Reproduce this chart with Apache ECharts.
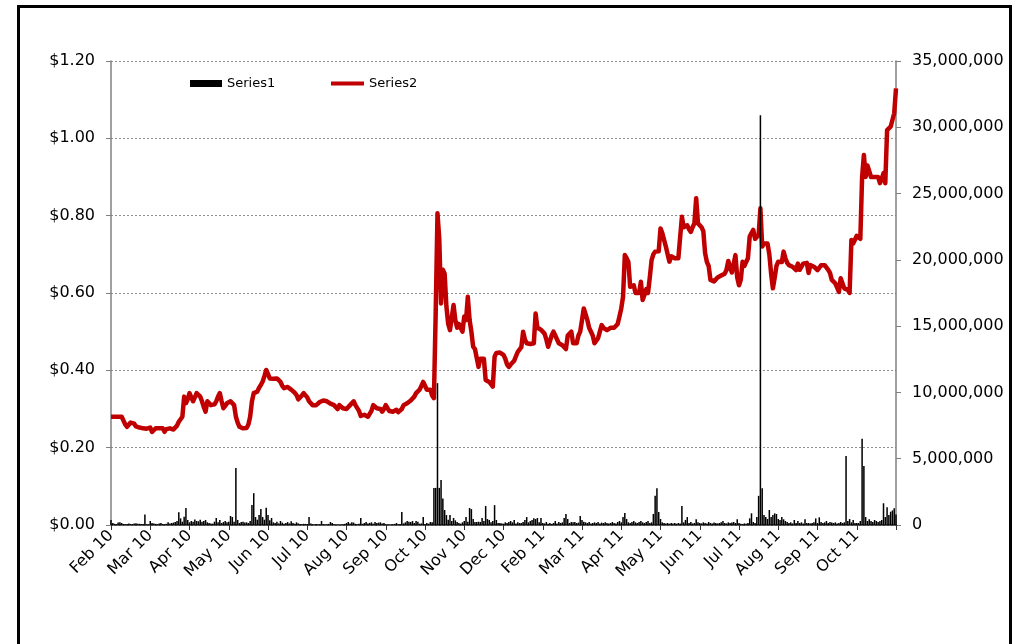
<!DOCTYPE html>
<html>
<head>
<meta charset="utf-8">
<script src="https://cdn.jsdelivr.net/npm/echarts@6/dist/echarts.min.js"></script>
<style>
html,body{margin:0;padding:0;background:#fff;}
#chart{width:1017px;height:644px;position:absolute;left:0;top:0;}
#frame{position:absolute;left:17px;top:5px;width:989px;height:700px;border:3px solid #000;pointer-events:none;}
</style>
</head>
<body>
<div id="chart"></div>
<div id="frame"></div>
<script>
// Tick labels on the category axis (one every 22 trading days)
const tickLabels = ['Feb 10','Mar 10','Apr 10','May 10','Jun 10','Jul 10','Aug 10','Sep 10','Oct 10','Nov 10','Dec 10','Feb 11','Mar 11','Apr 11','May 11','Jun 11','Jul 11','Aug 11','Sep 11','Oct 11'];
const tickEvery = 22;

// Series2: price ($), one per trading day
const price = [
0.28,0.28,0.28,0.28,0.28,0.28,0.28,0.27,0.26,0.254,
0.258,0.265,0.269,0.262,0.255,0.257,0.252,0.25,0.25,0.254,
0.249,0.252,0.252,0.241,0.246,0.25,0.25,0.25,0.248,0.25,
0.241,0.248,0.25,0.25,0.25,0.247,0.25,0.257,0.267,0.272,
0.28,0.332,0.315,0.325,0.341,0.33,0.32,0.33,0.341,0.338,
0.332,0.32,0.305,0.293,0.32,0.318,0.31,0.31,0.312,0.32,
0.332,0.341,0.32,0.302,0.308,0.315,0.318,0.32,0.315,0.31,
0.28,0.265,0.254,0.252,0.25,0.25,0.251,0.26,0.28,0.32,
0.341,0.336,0.345,0.355,0.362,0.371,0.385,0.401,0.39,0.379,
0.38,0.378,0.379,0.379,0.375,0.37,0.36,0.354,0.358,0.357,
0.352,0.35,0.348,0.342,0.336,0.325,0.32,0.335,0.341,0.338,
0.33,0.32,0.315,0.31,0.31,0.31,0.312,0.318,0.32,0.322,
0.32,0.32,0.318,0.314,0.312,0.31,0.305,0.3,0.31,0.308,
0.302,0.3,0.3,0.305,0.31,0.315,0.32,0.31,0.305,0.295,
0.282,0.28,0.285,0.285,0.28,0.28,0.295,0.31,0.305,0.302,
0.3,0.3,0.293,0.3,0.31,0.302,0.295,0.298,0.293,0.293,
0.298,0.292,0.293,0.3,0.31,0.312,0.315,0.318,0.322,0.323,
0.332,0.341,0.345,0.35,0.354,0.37,0.36,0.35,0.35,0.35,
0.335,0.328,0.55,0.806,0.74,0.573,0.66,0.65,0.565,0.52,
0.504,0.5,0.569,0.53,0.51,0.52,0.515,0.5,0.539,0.53,
0.59,0.53,0.5,0.461,0.455,0.45,0.409,0.43,0.435,0.43,
0.375,0.372,0.37,0.365,0.358,0.435,0.445,0.448,0.446,0.444,
0.44,0.43,0.415,0.409,0.415,0.42,0.425,0.43,0.448,0.45,
0.46,0.5,0.48,0.47,0.47,0.468,0.47,0.47,0.547,0.51,
0.508,0.505,0.5,0.495,0.48,0.461,0.475,0.49,0.5,0.49,
0.485,0.47,0.468,0.465,0.46,0.455,0.49,0.495,0.5,0.47,
0.47,0.47,0.49,0.5,0.53,0.56,0.545,0.53,0.51,0.505,
0.49,0.47,0.475,0.483,0.5,0.517,0.51,0.505,0.504,0.508,
0.51,0.51,0.51,0.51,0.52,0.539,0.56,0.59,0.698,0.69,
0.68,0.616,0.62,0.62,0.6,0.605,0.6,0.629,0.582,0.595,
0.61,0.6,0.64,0.685,0.7,0.707,0.707,0.708,0.767,0.755,
0.75,0.72,0.7,0.681,0.695,0.7,0.69,0.69,0.69,0.69,
0.797,0.77,0.772,0.775,0.765,0.758,0.77,0.78,0.845,0.78,
0.775,0.77,0.76,0.703,0.68,0.67,0.634,0.632,0.63,0.635,
0.64,0.645,0.645,0.647,0.65,0.66,0.683,0.665,0.653,0.65,
0.698,0.64,0.62,0.634,0.681,0.67,0.68,0.69,0.746,0.755,
0.763,0.74,0.745,0.75,0.819,0.72,0.728,0.728,0.728,0.7,
0.65,0.612,0.64,0.67,0.681,0.68,0.68,0.707,0.69,0.678,
0.672,0.668,0.668,0.665,0.659,0.676,0.66,0.657,0.676,0.672,
0.678,0.652,0.672,0.67,0.668,0.665,0.659,0.665,0.672,0.676,
0.672,0.668,0.66,0.652,0.634,0.63,0.625,0.629,0.603,0.638,
0.625,0.612,0.61,0.608,0.6,0.737,0.728,0.725,0.748,0.745,
0.74,0.9,0.957,0.9,0.93,0.935,0.9,0.897,0.9,0.905,
0.9,0.884,0.895,0.91,0.884,1.021,1.025,1.03,1.025,1.065,
1.129
];

// Series1: volume, in thousands of units, one per trading day
const volumeThousands = [
377,150,90,60,180,200,150,80,60,70,
110,80,60,120,140,100,90,70,80,800,
60,40,300,150,120,90,60,110,150,80,
60,90,200,120,150,180,225,300,960,500,
250,625,1280,380,200,300,250,420,300,280,
400,250,300,380,200,150,120,100,250,530,
200,380,150,220,300,200,250,680,600,250,
4300,380,150,220,250,180,200,150,300,1500,
2400,600,400,750,1200,600,400,1300,750,350,
530,200,150,250,120,300,180,100,150,220,
120,280,150,100,200,120,75,60,90,80,
75,600,120,60,40,80,60,50,300,60,
40,60,80,225,150,60,40,30,20,40,
60,80,150,225,120,200,180,90,60,100,
530,90,150,225,120,160,200,100,225,150,
180,200,120,160,60,40,30,40,60,80,
150,60,80,980,120,200,300,250,225,300,
150,300,250,100,120,600,80,150,100,225,
200,2800,2800,10700,2800,3400,2000,1130,750,400,
750,300,530,350,225,150,100,200,300,600,
250,1280,1200,450,220,225,250,225,530,300,
1430,450,380,200,300,1500,380,150,150,120,
100,200,150,225,300,200,380,120,200,150,
150,220,380,600,200,300,380,500,450,530,
200,530,150,120,225,100,150,80,150,300,
120,225,150,200,530,830,450,150,225,200,
225,150,180,680,380,250,200,150,225,120,
150,200,150,225,120,180,150,200,150,120,
150,225,150,120,225,300,200,600,900,450,
200,150,225,300,200,150,225,300,200,150,
225,300,150,200,830,2200,2770,980,450,200,
150,120,150,100,150,120,150,100,150,120,
1430,200,380,600,150,225,120,150,430,200,
150,120,200,150,120,225,150,120,180,150,
120,150,200,300,150,120,200,150,180,225,
150,430,150,100,75,120,100,150,500,880,
225,150,600,2200,30900,2770,750,600,450,1130,
600,750,880,830,450,380,600,430,300,225,
150,200,120,380,150,300,150,200,120,430,
150,150,120,150,200,500,150,580,225,150,
200,300,150,225,180,150,200,120,150,225,
150,200,5200,300,450,200,380,150,150,150,
300,6500,4450,600,300,430,300,225,380,300,
225,300,380,1640,600,1330,750,1000,1100,1260,
800
];

const days = price.map((_, i) => String(i));
const volume = volumeThousands.map(v => v * 1000);

const FONT = 'DejaVu Sans';
const legendText = {fontFamily: FONT, fontSize: 13, color: '#000'};
const chart = echarts.init(document.getElementById('chart'), null, {renderer: 'canvas'});
chart.setOption({
  animation: false,
  backgroundColor: '#ffffff',
  textStyle: {fontFamily: FONT},
  legend: [
    {
      left: 190, top: 77, padding: 0,
      itemWidth: 32, itemHeight: 7,
      textStyle: legendText,
      data: [{name: 'Series1', icon: 'rect'}]
    },
    {
      left: 331, top: 77, padding: 0,
      itemWidth: 33, itemHeight: 4,
      textStyle: legendText,
      data: [{name: 'Series2', icon: 'rect'}]
    }
  ],
  grid: {left: 111, right: 121, top: 61, bottom: 119, containLabel: false},
  xAxis: {
    type: 'category',
    data: days,
    boundaryGap: false,
    axisLine: {lineStyle: {color: '#303030', width: 1.5}},
    axisTick: {show: true, interval: tickEvery - 1, length: 5, lineStyle: {color: '#303030'}},
    axisLabel: {
      interval: tickEvery - 1,
      rotate: 45,
      margin: 8,
      fontFamily: FONT, fontSize: 16, color: '#000',
      formatter: (v, idx) => (idx % tickEvery === 0 && tickLabels[idx / tickEvery]) ? tickLabels[idx / tickEvery] : ''
    },
    splitLine: {show: false}
  },
  yAxis: [
    {
      type: 'value', min: 0, max: 1.2, interval: 0.2,
      axisLine: {show: true, lineStyle: {color: '#808080', width: 1.5}},
      axisTick: {show: true, length: 5, lineStyle: {color: '#808080'}},
      axisLabel: {fontFamily: FONT, fontSize: 16, color: '#000', margin: 16,
        formatter: v => '$' + v.toFixed(2)},
      splitLine: {show: true, lineStyle: {color: '#909090', type: [2, 2], width: 1}}
    },
    {
      type: 'value', min: 0, max: 35000000, interval: 5000000,
      position: 'right',
      axisLine: {show: true, lineStyle: {color: '#808080', width: 1.5}},
      axisTick: {show: true, length: 5, lineStyle: {color: '#808080'}},
      axisLabel: {fontFamily: FONT, fontSize: 16, color: '#000', margin: 16,
        formatter: v => v.toLocaleString('en-US')},
      splitLine: {show: false}
    }
  ],
  series: [
    {
      name: 'Series2', type: 'line', yAxisIndex: 0,
      data: price, symbol: 'none', smooth: false,
      lineStyle: {color: '#C00000', width: 4.5, join: 'round'},
      itemStyle: {color: '#C00000'},
      z: 2
    },
    {
      name: 'Series1', type: 'bar', yAxisIndex: 1,
      data: volume, barCategoryGap: '15%',
      itemStyle: {color: '#000000'},
      z: 3
    }
  ]
});
</script>
</body>
</html>
